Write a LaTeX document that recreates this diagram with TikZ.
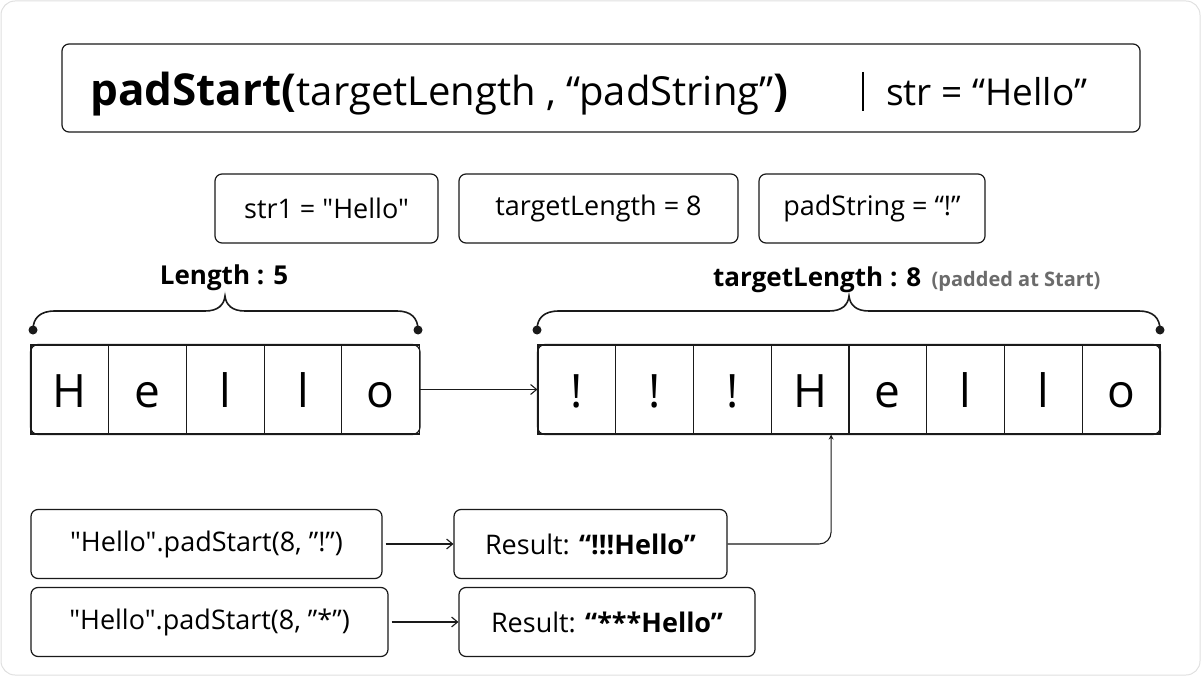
\documentclass[tikz,border=0pt]{standalone}
\usepackage{fontspec}
\setmainfont{Open Sans}[Ligatures=TeXOff]
\usetikzlibrary{arrows.meta}
\definecolor{edge}{HTML}{1A1A1A}
\definecolor{muted}{HTML}{6B6B6B}
\tikzset{
  box/.style={draw=edge, line width=1.2pt, rounded corners=7pt, inner sep=0pt},
  cell/.style={draw=edge, line width=1.2pt, minimum width=77.7pt, minimum height=89pt, inner sep=0pt, text height=36pt, text depth=0pt, font=\fontsize{46}{50}\selectfont},
  lbl/.style={font=\fontsize{27}{32}\selectfont},
  conn/.style={draw=edge, line width=1.1pt, -{Straight Barb[length=6pt,width=10pt]}},
  brace/.style={draw=edge, line width=1.6pt},
  dot/.style={fill=edge, circle, inner sep=0pt, minimum size=9pt},
}
\begin{document}
\begin{tikzpicture}[x=1pt,y=-1pt]
\useasboundingbox (0,0) rectangle (1201,676);
\draw[draw=black!12, fill=white, rounded corners=14pt, line width=1pt] (1,1) rectangle (1200,675);
% title
\node[box, minimum width=1078pt, minimum height=88pt] (title) at (601,88) {};
\node[anchor=base west, inner sep=0pt] (t1) at (90,106) {\fontsize{44}{50}\selectfont\bfseries padStart(};
\node[anchor=base west, inner sep=0pt] (t2) at (t1.base east) {\fontsize{40}{44}\selectfont targetLength , “padString”};
\node[anchor=base west, inner sep=0pt] (t3) at (t2.base east) {\fontsize{44}{50}\selectfont\bfseries )};
\coordinate (dv1) at (863,72); \coordinate (dv2) at (863,111);
\draw[line width=1.5pt] (dv1) -- (dv2);
\node[anchor=base west, inner sep=0pt] (t4) at (886,106) {\fontsize{37}{40}\selectfont str = “Hello”};
% params
\node[box, minimum width=223pt, minimum height=69pt, lbl] (p1) at (326.5,208.5) {str1 = "Hello"};
\node[box, minimum width=279pt, minimum height=69pt, lbl] (p2) at (598.5,208.5) {targetLength = 8};
\node[box, minimum width=226pt, minimum height=69pt, lbl] (p3) at (872,208.5) {padString = “!”};
% left cells
\foreach \c [count=\i] in {H,e,l,l,o} {
  \node[cell] (L\i) at ({31+77.7*(\i-0.5)},389.5) {\c};
}
\draw[edge, line width=1.2pt, rounded corners=8pt] (L1.north west) rectangle (L5.south east);
% right cells
\foreach \c [count=\i] in {!,!,!,H,e,l,l,o} {
  \node[cell] (R\i) at ({538+77.75*(\i-0.5)},389.5) {\c};
}
\draw[edge, line width=1.2pt, rounded corners=8pt] (R1.north west) rectangle (R8.south east);
\draw[conn] (L5.east) -- (R1.west);
% braces
\node[dot] (bl1) at (33,330) {}; \node[dot] (bl2) at (418,330) {};
\draw[brace] (bl1.center) .. controls (33,318) and (40,311) .. (55,311) -- (205,311) .. controls (218,311) and (224,305) .. (225,296) .. controls (226,305) and (232,311) .. (245,311) -- (397,311) .. controls (411,311) and (418,318) .. (bl2.center);
\node[font=\fontsize{26}{30}\selectfont\bfseries] (len) at (224,278) {Length : 5};
\node[dot] (br1) at (537,330) {}; \node[dot] (br2) at (1160,330) {};
\draw[brace] (br1.center) .. controls (537,318) and (544,311) .. (559,311) -- (829,311) .. controls (842,311) and (848,305) .. (849,296) .. controls (850,305) and (856,311) .. (869,311) -- (1139,311) .. controls (1153,311) and (1160,318) .. (br2.center);
\node[anchor=base west, inner sep=0pt, font=\fontsize{26}{30}\selectfont\bfseries] (tl) at (713,287) {targetLength : 8};
\node[anchor=base west, inner sep=0pt, font=\fontsize{20}{24}\selectfont\bfseries, text=muted] (pad) at ([xshift=10pt]tl.base east) {(padded at Start)};
% bottom
\node[box, minimum width=351pt, minimum height=69pt, lbl] (a1) at (206.5,544) {"Hello".padStart(8, ”!”)};
\node[box, minimum width=273pt, minimum height=69pt, lbl] (r1) at (590.5,544) {Result: \textbf{“!!!Hello”}};
\node[box, minimum width=357pt, minimum height=69pt, lbl] (a2) at (209.5,622) {"Hello".padStart(8, ”*”)};
\node[box, minimum width=296pt, minimum height=69pt, lbl] (r2) at (607,622) {Result: \textbf{“***Hello”}};
\draw[conn] ([xshift=3pt]a1.east) -- (r1.west);
\draw[conn] ([xshift=3pt]a2.east) -- (r2.west);
\coordinate (tgt) at ([xshift=21pt]R4.south);
\draw[draw=edge, line width=1.1pt, rounded corners=12pt, -{Stealth[length=5pt,width=5pt]}] (r1.east) -- (tgt |- r1.east) -- (tgt);
\end{tikzpicture}
\end{document}
